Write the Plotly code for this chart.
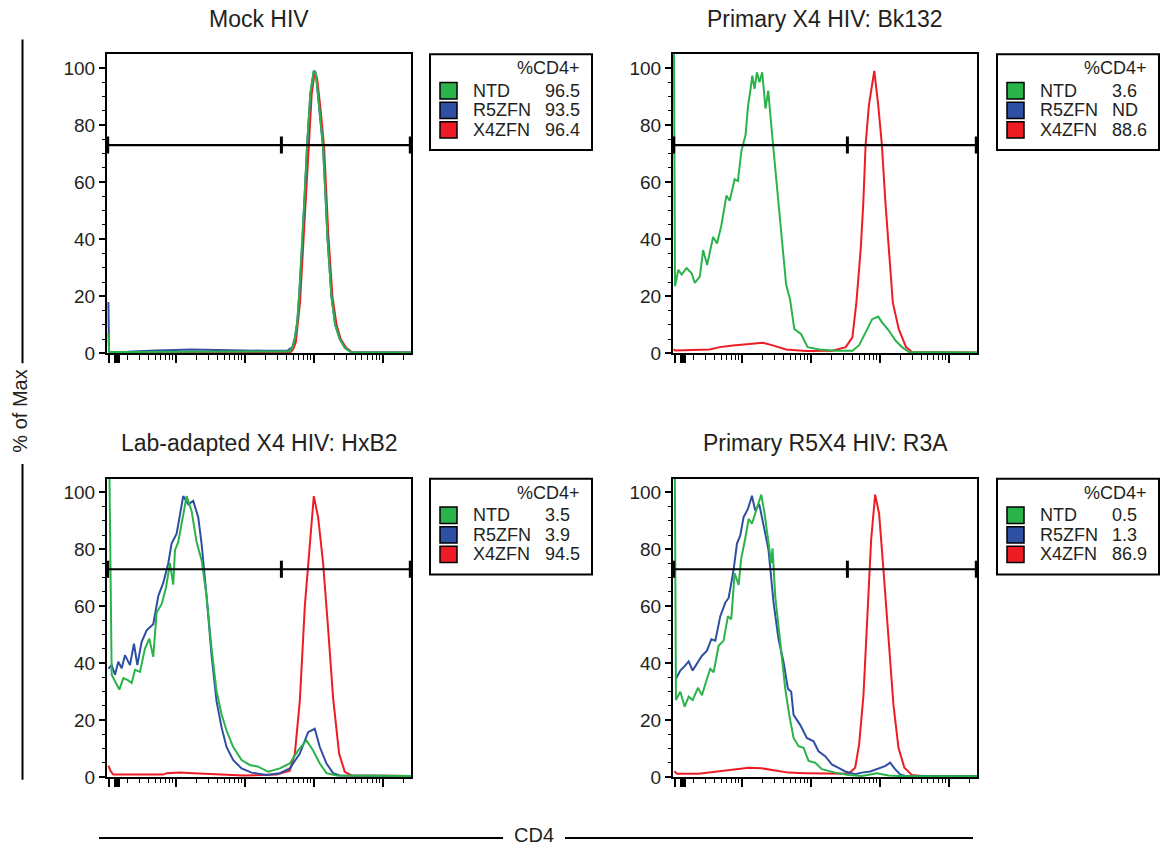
import math
import plotly.graph_objects as go

W, H = 1163, 856
FONT = "Arial, 'Liberation Sans', Helvetica, sans-serif"
INK = "#231f20"
GREEN = "#2bb34b"
BLUE = "#2f4fa2"
RED = "#ed1c24"

panel_titles = ["Mock HIV", "Primary X4 HIV: Bk132",
                "Lab-adapted X4 HIV: HxB2", "Primary R5X4 HIV: R3A"]
legend_names = ["NTD", "R5ZFN", "X4ZFN"]
legend_colors = [GREEN, BLUE, RED]
pct_ntd = ["96.5", "3.6", "3.5", "0.5"]
pct_r5zfn = ["93.5", "ND", "3.9", "1.3"]
pct_x4zfn = ["96.4", "88.6", "94.5", "86.9"]

# CD4 gate (log10 intensity) and the % of Max level it is drawn at
gate_x = [1.01, 3.53, 5.40]
gate_y = 73

x_range = [1.0, 5.41]      # log10 CD4 intensity
y_range = [0, 104.8]       # % of Max
y_ticks = [0, 20, 40, 60, 80, 100]

# ---- Mock HIV ----
mock_ntd_x = [1.02, 1.03, 1.3, 1.6, 1.9, 2.2, 2.5, 2.8, 3.1, 3.4, 3.62, 3.65, 3.69, 3.725, 3.76,
              3.787, 3.836, 3.87, 3.903, 3.95, 4.0, 4.03, 4.08, 4.135, 4.17, 4.2, 4.256, 4.31,
              4.377, 4.45, 4.546, 5.0, 5.41]
mock_ntd_y = [7, 0.5, 0.5, 0.5, 0.6, 0.7, 0.7, 0.6, 0.6, 0.6, 0.7, 0.8, 2.0, 5, 11,
              20, 40, 57, 73, 91, 99, 98, 86, 72, 55, 40, 20, 10,
              5, 2, 0.3, 0.3, 0.3]
mock_r5_x = [1.02, 1.03, 1.3, 1.5, 1.7, 2.0, 2.2, 2.4, 2.7, 3.0, 3.3, 3.55, 3.62, 3.69, 3.725,
             3.76, 3.787, 3.836, 3.87, 3.903, 3.95, 4.0, 4.03, 4.08, 4.135, 4.17, 4.2, 4.256,
             4.31, 4.377, 4.45, 4.546, 5.0, 5.41]
mock_r5_y = [18, 0.5, 0.6, 0.9, 1.0, 1.2, 1.4, 1.3, 1.1, 1.0, 0.9, 0.9, 1.0, 2.2, 5.5,
             11, 20, 40, 57, 73, 91, 99, 98, 86, 72, 55, 40, 20,
             10, 5, 2, 0.3, 0.3, 0.3]
mock_x4_x = [1.02, 1.05, 1.5, 2.0, 2.5, 3.0, 3.66, 3.70, 3.74, 3.80, 3.85, 3.92, 3.97, 4.015,
             4.05, 4.10, 4.15, 4.21, 4.27, 4.33, 4.39, 4.47, 4.56, 5.41]
mock_x4_y = [0.5, 0.3, 0.3, 0.3, 0.3, 0.3, 0.3, 1.5, 4, 18, 40, 73, 91, 99,
             96, 85, 72, 42, 20, 10, 5, 2, 0.3, 0.3]

# ---- Primary X4 HIV: Bk132 ----
bk_ntd_x = [1.008, 1.029, 1.077, 1.125, 1.197, 1.27, 1.317, 1.39, 1.437, 1.495, 1.582, 1.639,
            1.702, 1.775, 1.822, 1.895, 1.942, 1.991, 2.053, 2.087, 2.126, 2.15, 2.183, 2.217,
            2.255, 2.294, 2.342, 2.381, 2.438, 2.496, 2.568, 2.641, 2.698, 2.76, 2.857, 2.953,
            3.121, 3.362, 3.602, 3.698, 3.818, 3.89, 3.977, 4.035, 4.131, 4.228, 4.323, 4.42, 5.41]
bk_ntd_y = [140, 23.5, 29.3, 27.6, 29.9, 28.1, 24.7, 27, 36.2, 31, 40.8, 38.5,
            44.9, 55.3, 53.5, 61, 60.4, 70.8, 76.6, 86.4, 92.7, 97.3, 92.7, 98.5,
            95, 98.5, 85.8, 92.1, 76.6, 61.6, 45.4, 24.1, 18.9, 8.5, 6.8, 2.2,
            1.4, 0.9, 0.9, 2.8, 8.5, 12, 12.9, 10.8, 8, 4.5, 2.2, 0.5, 0.3]
bk_x4_x = [1.01, 1.029, 1.534, 1.678, 1.87, 2.111, 2.303, 2.448, 2.641, 2.929, 3.314, 3.506,
           3.602, 3.66, 3.722, 3.76, 3.794, 3.842, 3.92, 3.977, 4.03, 4.083, 4.131, 4.189,
           4.275, 4.381, 4.468, 5.41]
bk_x4_y = [1.5, 1.0, 1.4, 2.2, 2.8, 3.4, 3.7, 2.8, 1.4, 0.8, 0.9, 2.2,
           5.6, 17.8, 36.2, 52.4, 73.1, 87, 99, 87, 73.1, 52.4, 36.2, 17.8,
           8.5, 2.2, 0.5, 0.3]

# ---- Lab-adapted X4 HIV: HxB2 ----
hx_ntd_x = [1.02, 1.068, 1.116, 1.179, 1.237, 1.309, 1.357, 1.406, 1.478, 1.551, 1.614, 1.671,
            1.72, 1.792, 1.855, 1.913, 1.961, 1.986, 2.034, 2.082, 2.155, 2.227, 2.3, 2.372,
            2.444, 2.517, 2.589, 2.662, 2.734, 2.831, 2.952, 3.072, 3.193, 3.338, 3.507, 3.652,
            3.773, 3.894, 3.99, 4.087, 4.184, 4.329, 5.41]
hx_ntd_y = [140, 35.9, 33.6, 30.7, 34.7, 33.9, 33, 37.6, 36.9, 45.1, 48.6, 42.2,
            57.8, 60.7, 66.4, 75.1, 67.6, 79.7, 82.6, 88.9, 98.7, 93.5, 82.6, 76.2,
            63.6, 45.1, 30.1, 22, 16.3, 10.5, 5.9, 4.2, 3.6, 1.8, 3, 4.7,
            9.3, 12.8, 9.3, 4.7, 1.3, 0.5, 0.3]
hx_r5_x = [1.02, 1.068, 1.116, 1.164, 1.213, 1.261, 1.333, 1.391, 1.44, 1.502, 1.575, 1.671,
           1.744, 1.816, 1.889, 1.937, 2.01, 2.058, 2.106, 2.179, 2.251, 2.324, 2.372, 2.444,
           2.517, 2.589, 2.662, 2.734, 2.831, 2.952, 3.097, 3.314, 3.507, 3.652, 3.797, 3.918,
           4.014, 4.087, 4.184, 4.28, 4.377, 5.41]
hx_r5_y = [38, 39.3, 35.9, 40.5, 38.2, 42.8, 39.3, 46.8, 39.3, 47.4, 51.5, 53.7,
           63.6, 68.2, 75.1, 82, 85.5, 92.4, 98.7, 95.8, 97, 91.2, 82, 63.6,
           42.8, 26.6, 17.4, 10.5, 5.9, 3, 1.5, 0.7, 1.3, 3, 8.2, 15.7,
           16.9, 10.5, 4.7, 1.3, 0.5, 0.3]
hx_x4_x = [1.02, 1.053, 1.092, 1.816, 1.865, 2.058, 2.251, 2.541, 2.976, 3.459, 3.652, 3.725,
           3.797, 3.87, 3.932, 4.0, 4.063, 4.135, 4.208, 4.28, 4.367, 4.449, 4.546, 5.41]
hx_x4_y = [4, 2.0, 0.8, 0.8, 1.3, 1.5, 1.3, 1.0, 0.5, 0.8, 2.2, 8.2,
           26.6, 60.1, 79.7, 98.7, 91.2, 75.1, 52, 27.8, 8.2, 1.8, 0.5, 0.3]

# ---- Primary R5X4 HIV: R3A ----
r3a_ntd_x = [1.02, 1.043, 1.106, 1.169, 1.227, 1.285, 1.362, 1.42, 1.493, 1.541, 1.589, 1.662,
             1.734, 1.797, 1.845, 1.894, 1.952, 1.99, 2.048, 2.097, 2.145, 2.193, 2.242, 2.28,
             2.329, 2.386, 2.425, 2.444, 2.483, 2.556, 2.628, 2.686, 2.749, 2.821, 2.894, 2.966,
             3.063, 3.159, 3.353, 3.546, 3.739, 3.957, 4.126, 4.367, 5.41]
r3a_ntd_y = [140, 27, 29.9, 24.7, 28.2, 27, 31.3, 28.7, 34.5, 38, 36.8, 46.1,
             47.9, 56.5, 55.4, 71.6, 67.5, 76.8, 83.8, 90.7, 89, 92.5, 95.9, 99.2,
             92.5, 80.9, 75.1, 80.3, 63.5, 47.3, 31, 21.8, 13.7, 10.8, 10.2, 5.6,
             5, 2.7, 1.5, 0.7, 0.3, 1.3, 0.5, 0.2, 0.2]
r3a_r5_x = [1.043, 1.106, 1.179, 1.227, 1.285, 1.348, 1.42, 1.493, 1.556, 1.614, 1.686, 1.758,
            1.807, 1.879, 1.928, 1.976, 2.024, 2.087, 2.145, 2.193, 2.251, 2.314, 2.386, 2.459,
            2.531, 2.604, 2.667, 2.715, 2.749, 2.845, 2.942, 3.039, 3.111, 3.208, 3.304, 3.401,
            3.498, 3.643, 3.739, 3.86, 3.981, 4.077, 4.15, 4.222, 4.295, 4.367, 5.41]
r3a_r5_y = [34.5, 37.4, 39.2, 40.6, 37.4, 39.7, 42.6, 44.4, 48.4, 47.9, 56.5, 61.2,
            62.9, 72.8, 82, 84.9, 91.3, 94.2, 98.8, 93.6, 95.9, 88.4, 79.7, 61.2,
            48.4, 40.3, 31, 29.9, 21.8, 18.3, 13.7, 12.5, 9, 7.3, 4.4, 3.2,
            1.9, 0.9, 1.5, 1.9, 3, 3.8, 5, 2.7, 0.9, 0.3, 0.3]
r3a_x4_x = [1.02, 1.058, 1.372, 1.517, 1.71, 1.903, 2.097, 2.29, 2.483, 2.676, 2.918, 3.353,
            3.546, 3.643, 3.7, 3.763, 3.826, 3.874, 3.932, 3.99, 4.053, 4.126, 4.198, 4.271,
            4.357, 4.464, 4.609, 5.41]
r3a_x4_y = [2, 1.1, 1.1, 1.5, 2.1, 2.7, 3.2, 3, 2.3, 1.5, 1.3, 1.1,
            1.1, 3.2, 11.4, 28.7, 57.7, 83.2, 99.2, 92.5, 72.8, 48.4, 25.3, 10.2,
            3.2, 0.7, 0.3, 0.3]

panel_series = [
    [(mock_x4_x, mock_x4_y, RED), (mock_r5_x, mock_r5_y, BLUE), (mock_ntd_x, mock_ntd_y, GREEN)],
    [(bk_x4_x, bk_x4_y, RED), (bk_ntd_x, bk_ntd_y, GREEN)],
    [(hx_x4_x, hx_x4_y, RED), (hx_r5_x, hx_r5_y, BLUE), (hx_ntd_x, hx_ntd_y, GREEN)],
    [(r3a_x4_x, r3a_x4_y, RED), (r3a_r5_x, r3a_r5_y, BLUE), (r3a_ntd_x, r3a_ntd_y, GREEN)],
]

# plot frames in pixels: left, right, top, bottom
boxes = [(107, 411, 55, 358), (673, 977, 55, 358), (107, 411, 485, 787), (673, 977, 485, 787)]
legend_left = [430, 997, 430, 997]


def fx(p):
    return p / W


def fy(p):
    return 1 - p / H


# log-decade tick marks (major at decades, minor at 2..9 within each decade)
major_x = [1.03, 1.12, 1.15, 1.18, 2, 3, 4, 5]
minor_x = [d + math.log10(k) for d in range(1, 5) for k in range(2, 10)] + [5 + math.log10(2)]

fig = go.Figure()
layout = dict(
    width=W, height=H, margin=dict(l=0, r=0, t=0, b=0),
    plot_bgcolor="white", paper_bgcolor="white",
    font=dict(family=FONT, color=INK), showlegend=False,
)
shapes, annotations = [], []

for i, (l, r, t, b) in enumerate(boxes):
    n = "" if i == 0 else str(i + 1)
    layout["xaxis" + n] = dict(
        domain=[fx(l), fx(r)], range=x_range, anchor="y" + n,
        showline=True, mirror=True, linecolor="black", linewidth=2,
        ticks="outside", tickvals=major_x, ticklen=8, tickwidth=1.6, tickcolor="black",
        minor=dict(tickvals=minor_x, ticks="outside", ticklen=4.5, tickwidth=1.3,
                   tickcolor="black", showgrid=False),
        showticklabels=False, showgrid=False, zeroline=False,
    )
    layout["yaxis" + n] = dict(
        domain=[fy(b), fy(t)], range=y_range, anchor="x" + n,
        showline=True, mirror=True, linecolor="black", linewidth=2,
        ticks="outside", tickvals=y_ticks, ticklen=6, tickwidth=1.6, tickcolor="black",
        minor=dict(dtick=5, ticks="outside", ticklen=3.5, tickwidth=1.3,
                   tickcolor="black", showgrid=False),
        tickfont=dict(size=19, family=FONT, color=INK),
        showgrid=False, zeroline=False,
    )

    for xs, ys, col in panel_series[i]:
        fig.add_trace(go.Scatter(x=xs, y=ys, mode="lines", line=dict(color=col, width=2),
                                 xaxis="x" + n, yaxis="y" + n, hoverinfo="skip"))

    # gate bar
    fig.add_trace(go.Scatter(x=[gate_x[0], gate_x[-1]], y=[gate_y, gate_y], mode="lines",
                             line=dict(color="black", width=2.2),
                             xaxis="x" + n, yaxis="y" + n, hoverinfo="skip"))
    gx, gy = [], []
    for g in gate_x:
        gx += [g, g, None]
        gy += [gate_y - 3, gate_y + 3, None]
    fig.add_trace(go.Scatter(x=gx, y=gy, mode="lines", line=dict(color="black", width=3),
                             xaxis="x" + n, yaxis="y" + n, hoverinfo="skip"))

    # panel title
    annotations.append(dict(text=panel_titles[i], x=fx((l + r) / 2), y=fy(t - 36),
                            xref="paper", yref="paper", showarrow=False,
                            xanchor="center", yanchor="middle",
                            font=dict(size=23, family=FONT, color=INK)))

    # legend box
    lx, ly = legend_left[i], t
    shapes.append(dict(type="rect", xref="paper", yref="paper",
                       x0=fx(lx), x1=fx(lx + 162), y0=fy(ly), y1=fy(ly + 97),
                       line=dict(color="black", width=2), fillcolor="white"))
    annotations.append(dict(text="%CD4+", x=fx(lx + 152), y=fy(ly + 14),
                            xref="paper", yref="paper", showarrow=False,
                            xanchor="right", yanchor="middle",
                            font=dict(size=18, family=FONT, color=INK)))
    values = [pct_ntd[i], pct_r5zfn[i], pct_x4zfn[i]]
    for k, (name, col, val) in enumerate(zip(legend_names, legend_colors, values)):
        cy = ly + 37 + 19.8 * k
        shapes.append(dict(type="rect", xref="paper", yref="paper",
                           x0=fx(lx + 10), x1=fx(lx + 27), y0=fy(cy - 8.3), y1=fy(cy + 8.3),
                           line=dict(color="black", width=1.5), fillcolor=col))
        annotations.append(dict(text=name, x=fx(lx + 41), y=fy(cy),
                                xref="paper", yref="paper", showarrow=False,
                                xanchor="left", yanchor="middle",
                                font=dict(size=18, family=FONT, color=INK)))
        annotations.append(dict(text=val, x=fx(lx + 113), y=fy(cy),
                                xref="paper", yref="paper", showarrow=False,
                                xanchor="left", yanchor="middle",
                                font=dict(size=18, family=FONT, color=INK)))

# shared axis titles with rules on either side
annotations.append(dict(text="% of Max", x=fx(20), y=fy(417), xref="paper", yref="paper",
                        showarrow=False, textangle=-90, xanchor="center", yanchor="middle",
                        font=dict(size=20, family=FONT, color=INK)))
shapes.append(dict(type="line", xref="paper", yref="paper", x0=fx(22.5), x1=fx(22.5),
                   y0=fy(40), y1=fy(368), line=dict(color="black", width=2)))
shapes.append(dict(type="line", xref="paper", yref="paper", x0=fx(22.5), x1=fx(22.5),
                   y0=fy(470), y1=fy(790), line=dict(color="black", width=2)))

annotations.append(dict(text="CD4", x=fx(534), y=fy(846), xref="paper", yref="paper",
                        showarrow=False, xanchor="center", yanchor="middle",
                        font=dict(size=20, family=FONT, color=INK)))
shapes.append(dict(type="line", xref="paper", yref="paper", x0=fx(99), x1=fx(503),
                   y0=fy(849), y1=fy(849), line=dict(color="black", width=2)))
shapes.append(dict(type="line", xref="paper", yref="paper", x0=fx(565), x1=fx(973),
                   y0=fy(849), y1=fy(849), line=dict(color="black", width=2)))

layout["shapes"] = shapes
layout["annotations"] = annotations
fig.update_layout(**layout)
fig.write_html("out.html")
